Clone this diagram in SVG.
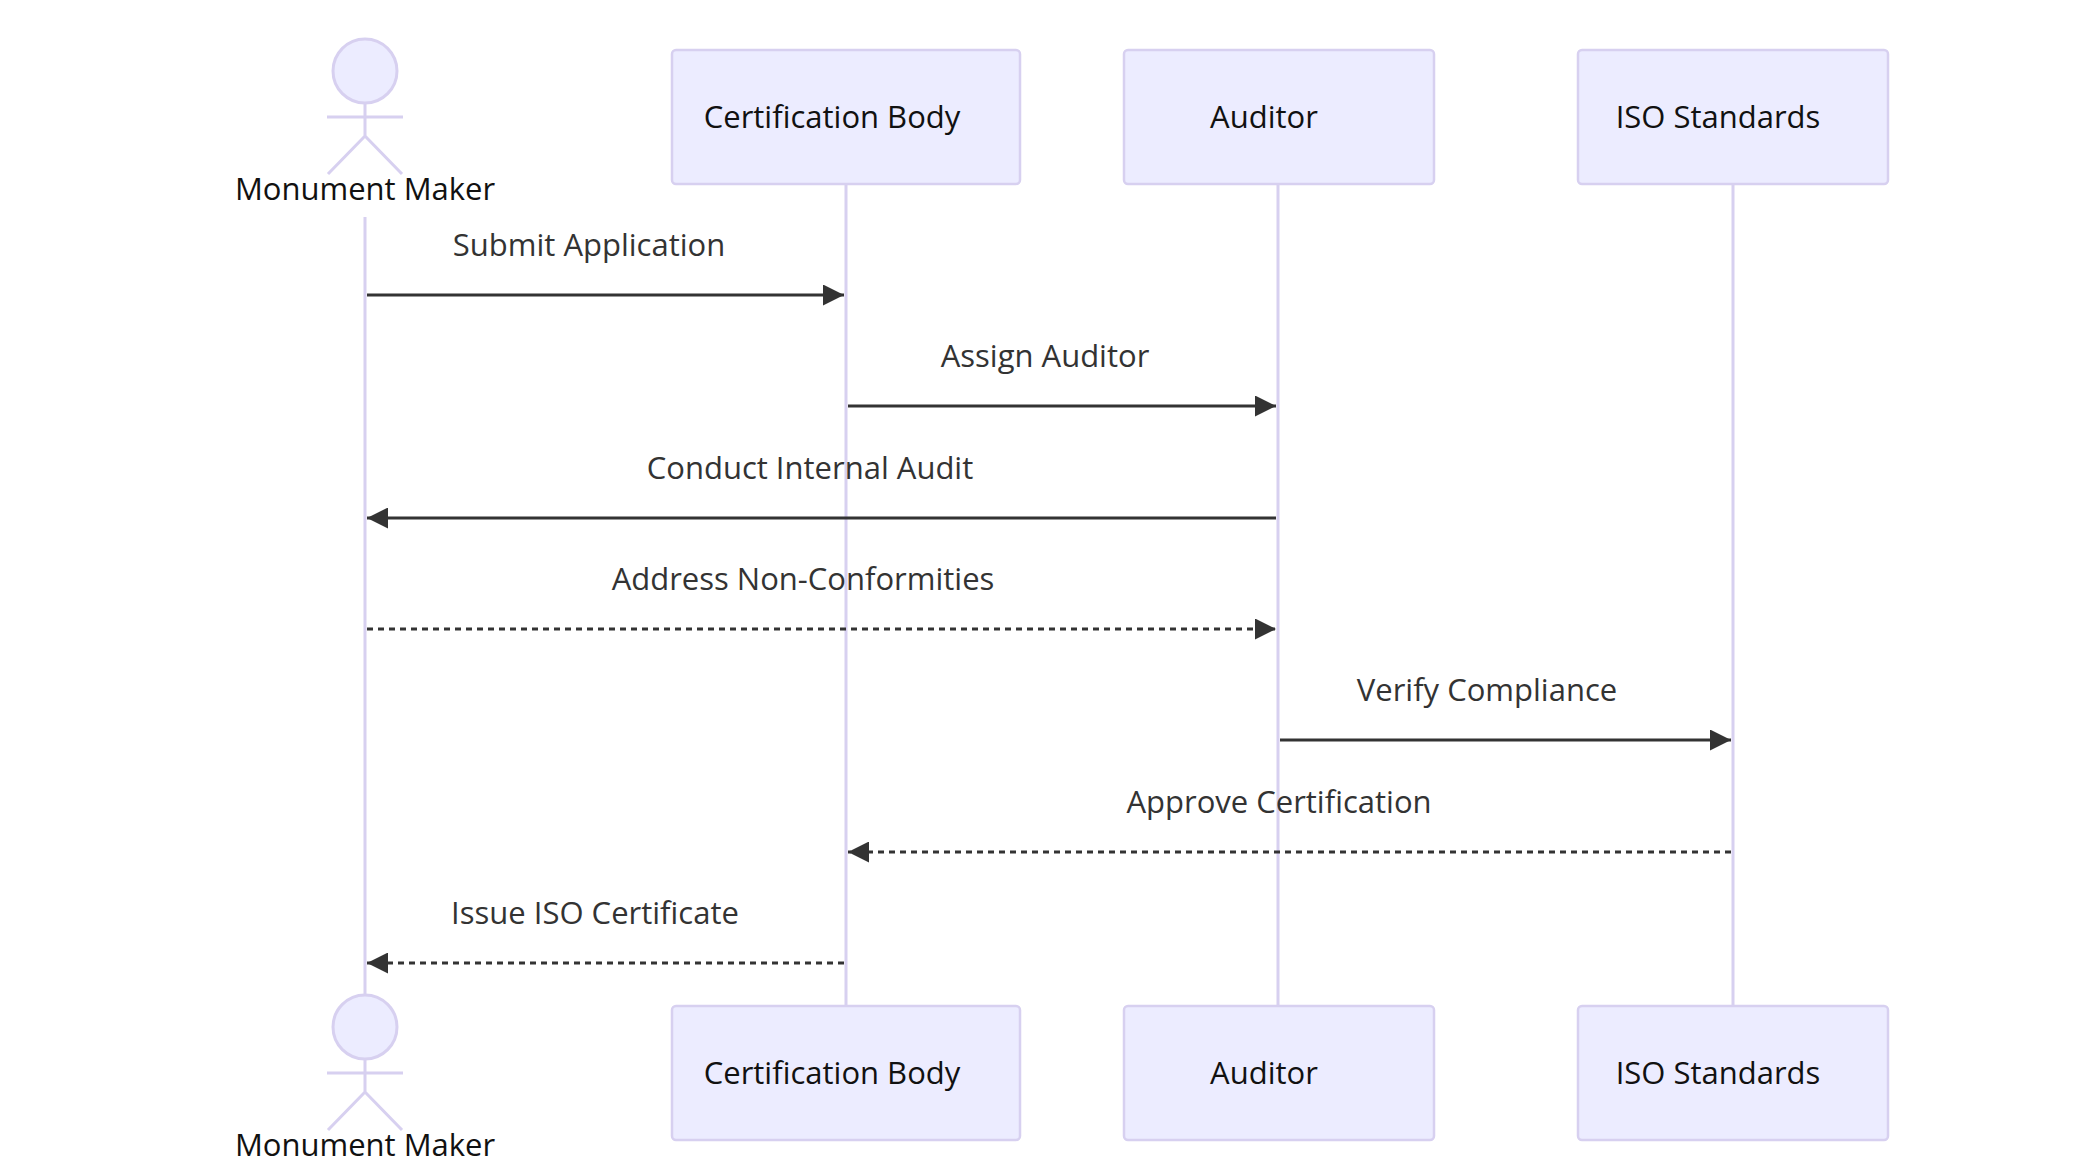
<svg xmlns="http://www.w3.org/2000/svg" width="2092" height="1172" viewBox="0 0 2092 1172">
<style>
.box{fill:#ECECFF;stroke:#D7D0F0;stroke-width:2.5}
.life{stroke:#D7D0F0;stroke-width:3}
.stick{fill:none;stroke:#D7D0F0;stroke-width:3}
.head{fill:#ECECFF;stroke:#D7D0F0;stroke-width:3}
.at{font-family:"Open Sans",sans-serif;font-size:31px;fill:#111;text-anchor:middle}
.mt{font-family:"Open Sans",sans-serif;font-size:31px;fill:#333;text-anchor:middle}
.msg{stroke:#333;stroke-width:3;fill:none;marker-end:url(#ah)}
.dash{stroke-dasharray:6,5}
</style>
<defs>
<marker id="ah" viewBox="0 0 12 12" refX="12" refY="6" markerWidth="7" markerHeight="7" markerUnits="strokeWidth" orient="auto">
<path d="M0,0 L12,6 L0,12 Z" fill="#333"/>
</marker>
</defs>
<g id="lifelines">
<line class="life" x1="365" y1="217" x2="365" y2="995"/>
<line class="life" x1="846" y1="184" x2="846" y2="1006"/>
<line class="life" x1="1278" y1="184" x2="1278" y2="1006"/>
<line class="life" x1="1733" y1="184" x2="1733" y2="1006"/>
</g>
<g id="monument-maker-top">
<circle class="head" cx="365" cy="71" r="32"/>
<path class="stick" d="M365,103 V136 M327,117 H403 M365,136 L328,174 M365,136 L402,174"/>
<text class="at" x="365" y="200">Monument Maker</text>
</g>
<g id="cert-top"><rect class="box" x="672" y="50" width="348" height="134" rx="4"/><text class="at" x="832" y="128">Certification Body</text></g>
<g id="auditor-top"><rect class="box" x="1124" y="50" width="310" height="134" rx="4"/><text class="at" x="1264" y="128">Auditor</text></g>
<g id="iso-top"><rect class="box" x="1578" y="50" width="310" height="134" rx="4"/><text class="at" x="1718" y="128">ISO Standards</text></g>
<g id="monument-maker-bottom">
<circle class="head" cx="365" cy="1027" r="32"/>
<path class="stick" d="M365,1059 V1092 M327,1073 H403 M365,1092 L328,1130 M365,1092 L402,1130"/>
<text class="at" x="365" y="1156">Monument Maker</text>
</g>
<g id="cert-bottom"><rect class="box" x="672" y="1006" width="348" height="134" rx="4"/><text class="at" x="832" y="1084">Certification Body</text></g>
<g id="auditor-bottom"><rect class="box" x="1124" y="1006" width="310" height="134" rx="4"/><text class="at" x="1264" y="1084">Auditor</text></g>
<g id="iso-bottom"><rect class="box" x="1578" y="1006" width="310" height="134" rx="4"/><text class="at" x="1718" y="1084">ISO Standards</text></g>
<g id="connectors">
<line class="msg" x1="367" y1="295" x2="844" y2="295"/>
<text class="mt" x="589" y="256">Submit Application</text>
<line class="msg" x1="848" y1="406" x2="1276" y2="406"/>
<text class="mt" x="1045" y="367">Assign Auditor</text>
<line class="msg" x1="1276" y1="518" x2="367" y2="518"/>
<text class="mt" x="810" y="479">Conduct Internal Audit</text>
<line class="msg dash" x1="367" y1="629" x2="1276" y2="629"/>
<text class="mt" x="803" y="590">Address Non-Conformities</text>
<line class="msg" x1="1280" y1="740" x2="1731" y2="740"/>
<text class="mt" x="1487" y="701">Verify Compliance</text>
<line class="msg dash" x1="1731" y1="852" x2="848" y2="852"/>
<text class="mt" x="1279" y="813">Approve Certification</text>
<line class="msg dash" x1="844" y1="963" x2="367" y2="963"/>
<text class="mt" x="595" y="924">Issue ISO Certificate</text>
</g>
</svg>
